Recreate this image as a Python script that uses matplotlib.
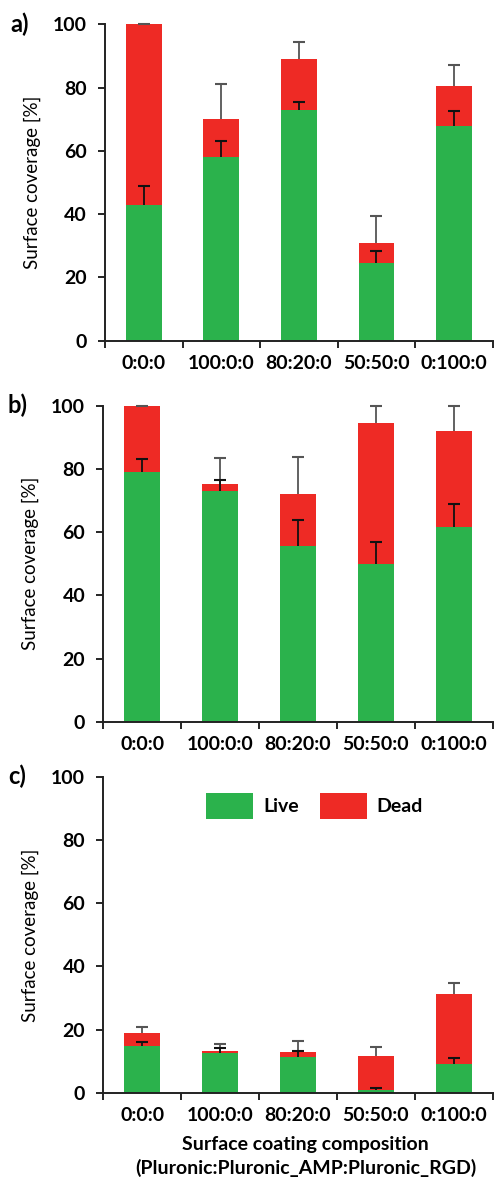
import matplotlib
matplotlib.use("Agg")
import matplotlib.pyplot as plt
import numpy as np

plt.rcParams['font.family'] = ['Lato', 'DejaVu Sans']

categories = ["0:0:0", "100:0:0", "80:20:0", "50:50:0", "0:100:0"]

# panel a
live_a = [43, 58, 73, 24.5, 68]
dead_a = [57, 12, 16, 6.5, 12.5]
live_err_a = [6, 5, 2.5, 4, 4.5]
dead_err_a = [0, 11, 5.5, 8.5, 6.5]

# panel b
live_b = [79, 73, 55.7, 50, 61.5]
dead_b = [21, 2.2, 16.5, 44.5, 30.5]
live_err_b = [4, 3.5, 8, 7, 7.5]
dead_err_b = [0, 8.3, 11.6, 5.5, 8]

# panel c
live_c = [14.8, 12.6, 11.3, 0.8, 9.2]
dead_c = [4.1, 0.8, 1.6, 10.9, 22.2]
live_err_c = [1.2, 1.7, 1.9, 0.9, 1.8]
dead_err_c = [2.1, 2.1, 3.5, 2.9, 3.5]

GREEN = "#2BB24C"
RED = "#EE2A25"
FS = 14

W, H = 496, 1179
fig = plt.figure(figsize=(W / 100, H / 100), dpi=100)


def make_ax(left, right, top, bottom):
    return fig.add_axes([left / W, 1 - bottom / H, (right - left) / W, (bottom - top) / H])


def up_err(ax, x, base, err, color):
    # upper-only error bar: stem + single cap on top
    ax.vlines(x, base, base + err, color=color, linewidth=1.3, zorder=3, clip_on=False)
    ax.plot(x, base + err, linestyle="none", marker="_", markersize=8,
            markeredgewidth=1.5, color=color, zorder=3, clip_on=False)


def draw_panel(ax, live, dead, live_err, dead_err, letter):
    x = np.arange(len(categories))
    live = np.array(live)
    dead = np.array(dead)
    total = live + dead
    ax.bar(x, live, width=0.46, color=GREEN, linewidth=0, label="Live", zorder=2)
    ax.bar(x, dead, width=0.46, bottom=live, color=RED, linewidth=0, label="Dead", zorder=2)
    up_err(ax, x, total, np.array(dead_err), "#555555")
    up_err(ax, x, live, np.array(live_err), "#111111")

    ax.set_xlim(-0.5, len(x) - 0.5)
    ax.set_ylim(0, 100)
    ax.set_yticks([0, 20, 40, 60, 80, 100])
    ax.set_xticks(np.arange(len(x) + 1) - 0.5)
    ax.set_xticklabels([])
    ax.set_xticks(x, minor=True)
    ax.set_xticklabels(categories, minor=True, fontweight="bold", fontsize=FS)
    ax.tick_params(axis="x", which="major", direction="out", length=5, width=1.2)
    ax.tick_params(axis="x", which="minor", length=0, pad=10)
    ax.tick_params(axis="y", direction="out", length=5, width=1.2, pad=8, labelsize=FS)
    for lab in ax.get_yticklabels():
        lab.set_fontweight("bold")
    for s in ["top", "right"]:
        ax.spines[s].set_visible(False)
    for s in ["left", "bottom"]:
        ax.spines[s].set_linewidth(1.4)
        ax.spines[s].set_color("#222222")
    ax.set_ylabel("Surface coverage [%]", fontsize=13.5)
    ax.yaxis.set_label_coords(-0.165, 0.5)
    ax.text(-0.245, 1.0, letter, transform=ax.transAxes, fontsize=17,
            fontweight="bold", ha="left", va="center")


ax_a = make_ax(105, 492.7, 24.3, 340.7)
draw_panel(ax_a, live_a, dead_a, live_err_a, dead_err_a, "a)")

ax_b = make_ax(103.3, 492.7, 405.7, 721.7)
draw_panel(ax_b, live_b, dead_b, live_err_b, dead_err_b, "b)")

ax_c = make_ax(103.3, 492.7, 776.7, 1093)
draw_panel(ax_c, live_c, dead_c, live_err_c, dead_err_c, "c)")
ax_c.set_xlabel("Surface coating composition\n(Pluronic:Pluronic_AMP:Pluronic_RGD)",
                fontweight="bold", fontsize=FS, linespacing=1.4)
ax_c.xaxis.set_label_coords(0.52, -0.135)
ax_c.xaxis.label.set_va("top")
leg = ax_c.legend(loc="upper left", bbox_to_anchor=(0.265, 0.95), ncol=2, frameon=False,
                  handlelength=2.4, handleheight=1.7, handletextpad=0.5,
                  columnspacing=1.1, borderpad=0, borderaxespad=0,
                  prop={"weight": "bold", "size": FS})

fig.savefig("out.png", dpi=100)
